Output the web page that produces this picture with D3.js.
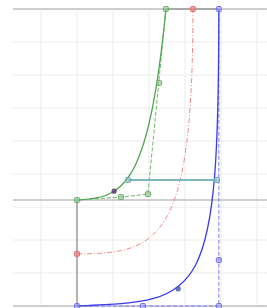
<!DOCTYPE html>
<html><head><meta charset="utf-8">
<script src="https://cdn.jsdelivr.net/npm/d3@7/dist/d3.min.js"></script>
<style>body{margin:0;background:#fff}svg{display:block}</style>
</head><body><svg id="c" width="267" height="308"></svg>
<script>
// grid ticks (data units)
const xTicks = [1,2,3,4,5,6,7];
const yTicks = [1,2,3,4,5,6,7,8];
// horizontal reference levels
const levels = [0, 3.21, 9];
const xExtent = [0.22, 7.3];
// green cubic Bezier control polygon
const greenCtrl = [[2.0,3.21],[3.22,3.30],[3.97,3.39],[4.47,9.0]];
const greenExtraPts = [[4.28,6.76]];
const greenCurvePt = [[3.03,3.48]];
// red curve (Bezier control points, hidden)
const redCtrl = [[2.0,1.58],[4.3,1.58],[5.22,2.0],[5.22,9.0]];
const redPts = [[2.0,1.58],[5.22,9.0]];
// blue cubic Bezier
const blueCtrl = [[2.0,0],[5.5,0.15],[5.94,0.1],[5.94,9.0]];
const bluePolyline = [[2.0,0],[5.94,0],[5.94,9.0]];
const bluePts = [[2.0,0],[3.83,0],[5.94,0],[5.94,1.39],[5.94,9.0]];
const blueCurvePt = [[4.81,0.52]];
// teal horizontal segment
const teal = [[3.42,3.82],[5.89,3.82]];
// gray segments
const grayTop = [[4.47,9.0],[5.94,9.0]];
const grayVert = [[2.0,0],[2.0,3.21]];

const svg = d3.select("#c");
const x = d3.scaleLinear().domain([0,7]).range([5,257]);
const y = d3.scaleLinear().domain([0,9]).range([306,9]);

// grid
svg.append("g").selectAll("line").data(xTicks).join("line")
  .attr("x1",d=>x(d)).attr("x2",d=>x(d)).attr("y1",y(9)).attr("y2",y(0))
  .attr("stroke","#ececec").attr("stroke-width",1);
svg.append("g").selectAll("line").data(yTicks).join("line")
  .attr("x1",x(xExtent[0])).attr("x2",x(xExtent[1])).attr("y1",d=>y(d)).attr("y2",d=>y(d))
  .attr("stroke","#ececec").attr("stroke-width",1);
// levels
svg.append("g").selectAll("line").data(levels).join("line")
  .attr("x1",x(xExtent[0])).attr("x2",x(xExtent[1])).attr("y1",d=>y(d)).attr("y2",d=>y(d))
  .attr("stroke","#cfcfcf").attr("stroke-width",2);

const line = d3.line().x(d=>x(d[0])).y(d=>y(d[1]));
svg.append("path").attr("d",line(grayTop)).attr("stroke","#aaa").attr("stroke-width",2).attr("fill","none");
svg.append("path").attr("d",line(grayVert)).attr("stroke","#888").attr("stroke-width",1.2).attr("fill","none");

function bez(c){
  const p = d3.path();
  p.moveTo(x(c[0][0]),y(c[0][1]));
  p.bezierCurveTo(x(c[1][0]),y(c[1][1]),x(c[2][0]),y(c[2][1]),x(c[3][0]),y(c[3][1]));
  return p.toString();
}
function markers(pts, stroke, fill, s){
  svg.append("g").selectAll("rect").data(pts).join("rect")
    .attr("x",d=>x(d[0])-s/2).attr("y",d=>y(d[1])-s/2).attr("width",s).attr("height",s)
    .attr("rx",1.2).attr("fill",fill).attr("stroke",stroke).attr("stroke-width",1);
}

// green
svg.append("path").attr("d",line(greenCtrl)).attr("stroke","#6fb56f").attr("stroke-width",1)
  .attr("stroke-dasharray","4,2").attr("fill","none");
svg.append("path").attr("d",bez(greenCtrl)).attr("stroke","#4ca64c").attr("stroke-width",1.3).attr("fill","none");
// red
svg.append("path").attr("d",bez(redCtrl)).attr("stroke","#f08a8a").attr("stroke-width",1)
  .attr("stroke-dasharray","5,2,1,2").attr("fill","none");
// blue
svg.append("path").attr("d",line(bluePolyline)).attr("stroke","#7b7bff").attr("stroke-width",1)
  .attr("stroke-dasharray","4,2").attr("fill","none");
svg.append("path").attr("d",bez(blueCtrl)).attr("stroke","#3a3af0").attr("stroke-width",1.3).attr("fill","none");
// teal
svg.append("path").attr("d",line(teal)).attr("stroke","#7fb8bc").attr("stroke-width",2).attr("fill","none");

markers(greenCtrl, "#6aaa6a", "rgba(140,200,140,0.6)", 5);
markers(greenExtraPts, "#6aaa6a", "rgba(140,200,140,0.6)", 5);
markers(greenCurvePt, "#5a3f6a", "rgba(90,60,110,0.8)", 4);
markers(redPts, "#e07070", "rgba(235,130,130,0.7)", 5);
markers(bluePts, "#7070e8", "rgba(150,150,250,0.6)", 5);
markers(blueCurvePt, "#5050b0", "rgba(90,90,170,0.8)", 4);
markers(teal, "#6aa8b0", "rgba(140,190,200,0.6)", 5);
</script></body></html>
